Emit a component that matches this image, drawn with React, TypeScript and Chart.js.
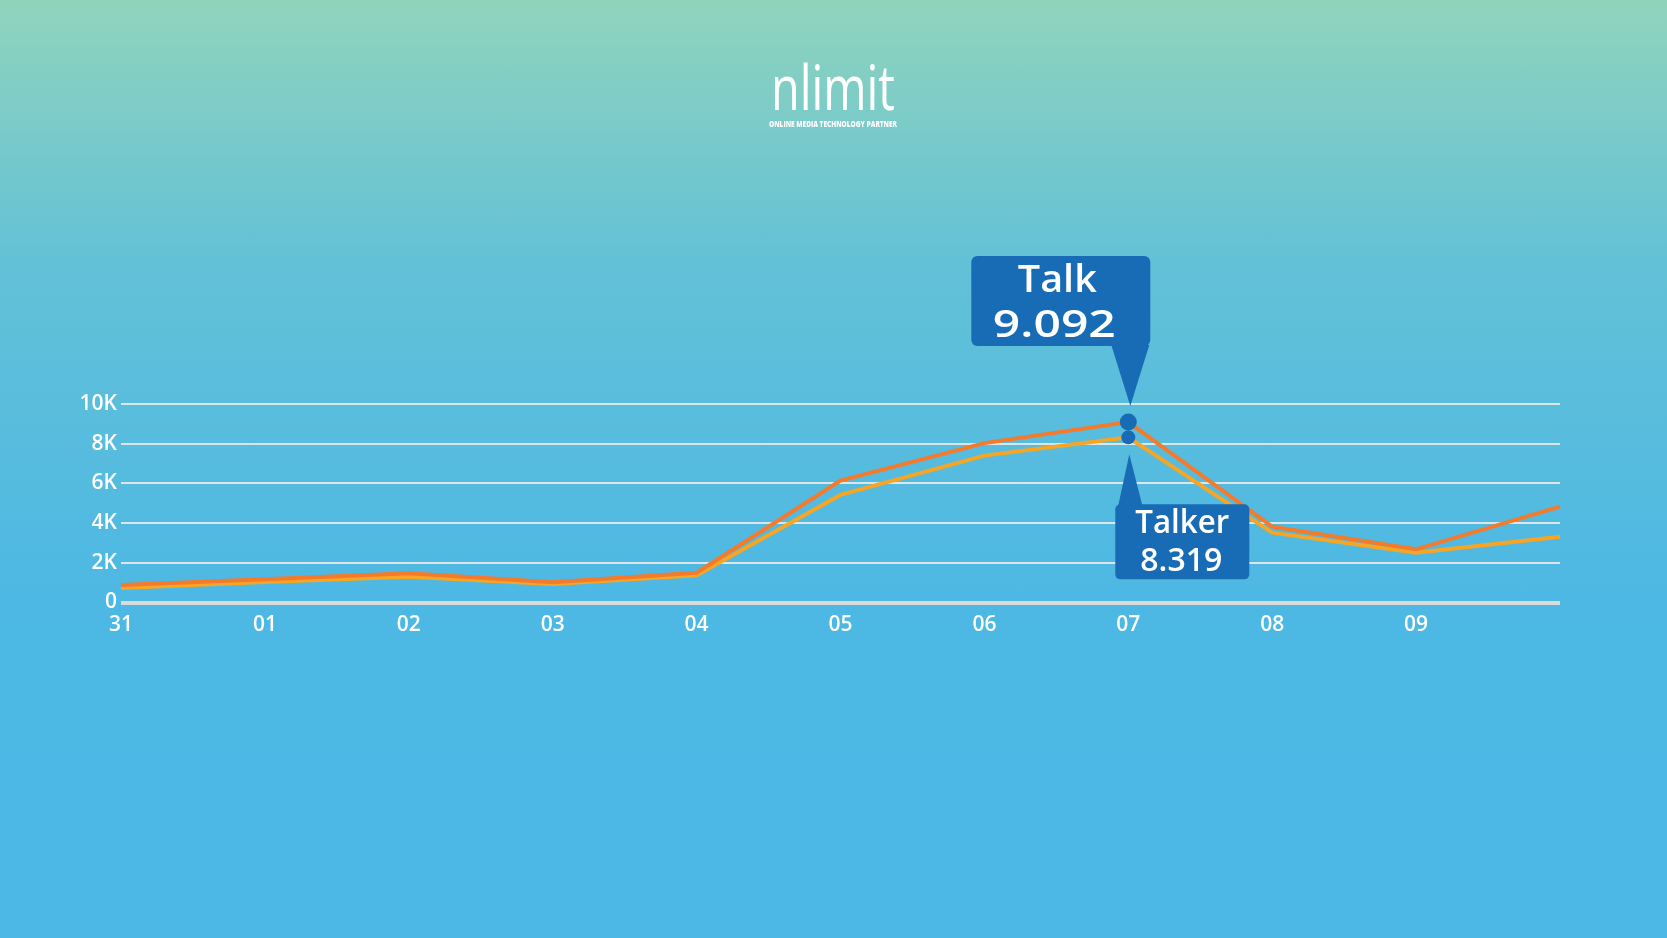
import React, { useEffect, useRef } from 'react';
import { Chart, registerables } from 'chart.js';

Chart.register(...registerables);

// ---- data ----
const dayLabels = ['31', '01', '02', '03', '04', '05', '06', '07', '08', '09', '10'];
const talkValues = [880, 1170, 1470, 1020, 1500, 6140, 8030, 9092, 3820, 2680, 4830];
const talkerValues = [730, 1030, 1300, 930, 1370, 5420, 7400, 8319, 3520, 2510, 3310];
const seriesNames = ['Talk', 'Talker'];
const yTickValues = [0, 2000, 4000, 6000, 8000, 10000];
const highlightIndex = 7;
const hiddenLabelIndex = 10;
const logoText = 'nlimit';
const logoTagline = 'ONLINE MEDIA TECHNOLOGY PARTNER';

// ---- styles ----
const TALK_COLOR = '#f47a2c';
const TALKER_COLOR = '#f6a524';
const CALLOUT_COLOR = '#176cb5';
const FONT = '"Open Sans", "Noto Sans", sans-serif';

function fitText(ctx: CanvasRenderingContext2D, text: string, cx: number, baseline: number, font: string, width: number) {
  ctx.save();
  ctx.font = font;
  const w = ctx.measureText(text).width;
  ctx.translate(cx, baseline);
  ctx.scale(width / w, 1);
  ctx.textAlign = 'center';
  ctx.textBaseline = 'alphabetic';
  ctx.fillStyle = '#ffffff';
  ctx.fillText(text, 0, 0);
  ctx.restore();
}

function fmt(v: number) {
  return (v / 1000).toFixed(3);
}

const calloutPlugin = {
  id: 'callouts',
  afterDatasetsDraw(chart: any) {
    const ctx: CanvasRenderingContext2D = chart.ctx;
    const p0 = chart.getDatasetMeta(0).data[highlightIndex];
    const p1 = chart.getDatasetMeta(1).data[highlightIndex];
    ctx.save();
    // Talk callout (above)
    {
      const px = p0.x, py = p0.y;
      const l = px - 157, r = px + 22, t = py - 166, b = py - 76;
      ctx.fillStyle = CALLOUT_COLOR;
      ctx.beginPath();
      ctx.roundRect(l, t, r - l, b - t, 6);
      ctx.fill();
      ctx.beginPath();
      ctx.moveTo(px - 17, b - 1);
      ctx.lineTo(px + 21, b - 1);
      ctx.lineTo(px + 2, py - 16);
      ctx.closePath();
      ctx.fill();
      fitText(ctx, seriesNames[0], px - 71, py - 130, `600 38px ${FONT}`, 79);
      fitText(ctx, fmt(talkValues[highlightIndex]), px - 74, py - 85, `600 38px ${FONT}`, 123);
    }
    // Talker callout (below)
    {
      const px = p1.x, py = p1.y;
      const l = px - 13, r = px + 121, t = py + 67, b = py + 142;
      ctx.fillStyle = CALLOUT_COLOR;
      ctx.beginPath();
      ctx.roundRect(l, t, r - l, b - t, 5);
      ctx.fill();
      ctx.beginPath();
      ctx.moveTo(px - 10, t + 1);
      ctx.lineTo(px + 14, t + 1);
      ctx.lineTo(px + 1, py + 17);
      ctx.closePath();
      ctx.fill();
      fitText(ctx, seriesNames[1], px + 54, py + 96, `600 32px ${FONT}`, 94);
      fitText(ctx, fmt(talkerValues[highlightIndex]), px + 53, py + 134, `600 32px ${FONT}`, 82);
    }
    // Logo
    fitText(ctx, logoText, 833, 110, `400 62px ${FONT}`, 124);
    fitText(ctx, logoTagline, 833, 127, `800 8px ${FONT}`, 128);
    ctx.restore();
  },
};

export default function App() {
  const canvasRef = useRef<HTMLCanvasElement | null>(null);

  useEffect(() => {
    document.body.style.margin = '0';
    const canvas = canvasRef.current;
    if (!canvas) return;
    const chart = new Chart(canvas, {
      type: 'line',
      data: {
        labels: dayLabels,
        datasets: [
          {
            label: seriesNames[0],
            data: talkValues,
            borderColor: TALK_COLOR,
            borderWidth: 4,
            tension: 0,
            fill: false,
            pointRadius: talkValues.map((_, i) => (i === highlightIndex ? 8.5 : 0)),
            pointBackgroundColor: CALLOUT_COLOR,
            pointBorderWidth: 0,
            pointHoverRadius: 0,
          },
          {
            label: seriesNames[1],
            data: talkerValues,
            borderColor: TALKER_COLOR,
            borderWidth: 4,
            tension: 0,
            fill: false,
            pointRadius: talkerValues.map((_, i) => (i === highlightIndex ? 7 : 0)),
            pointBackgroundColor: CALLOUT_COLOR,
            pointBorderWidth: 0,
            pointHoverRadius: 0,
          },
        ],
      },
      options: {
        responsive: false,
        animation: false,
        devicePixelRatio: 1,
        layout: { padding: { top: 404, right: 107, bottom: 938 - 602.5 - 40, left: 0 } },
        plugins: {
          legend: { display: false },
          tooltip: { enabled: false },
        },
        scales: {
          x: {
            offset: false,
            grid: { display: false, drawTicks: false },
            border: { display: false },
            afterFit: (scale: any) => {
              scale.height = 40;
            },
            ticks: {
              color: '#ffffff',
              font: { family: FONT, size: 21, weight: '600' },
              padding: 10,
              autoSkip: false,
              maxRotation: 0,
              callback: (_v: any, i: number) => (i === hiddenLabelIndex ? '' : dayLabels[i]),
            },
          },
          y: {
            min: 0,
            max: 10000,
            afterBuildTicks: (scale: any) => {
              scale.ticks = yTickValues.map((v) => ({ value: v }));
            },
            afterFit: (scale: any) => {
              scale.width = 121;
            },
            grid: {
              drawTicks: false,
              color: (c: any) => (c.tick && c.tick.value === 0 ? '#d8dadc' : 'rgba(228,231,234,0.95)'),
              lineWidth: (c: any) => (c.tick && c.tick.value === 0 ? 4 : 2),
            },
            border: { display: false },
            ticks: {
              color: '#ffffff',
              font: { family: FONT, size: 21, weight: '600' },
              padding: 4,
              callback: (v: any) => (Number(v) === 0 ? '0' : Number(v) / 1000 + 'K'),
            },
          },
        },
      },
      plugins: [calloutPlugin],
    });
    return () => chart.destroy();
  }, []);

  return (
    <div
      style={{
        position: 'absolute',
        left: 0,
        top: 0,
        width: 1667,
        height: 938,
        overflow: 'hidden',
        background: 'linear-gradient(to bottom, #90d4bc 0px, #63c1d7 260px, #4db8e4 600px, #4cb8e6 938px)',
      }}
    >
      <canvas ref={canvasRef} width={1667} height={938} style={{ display: 'block' }} />
    </div>
  );
}
